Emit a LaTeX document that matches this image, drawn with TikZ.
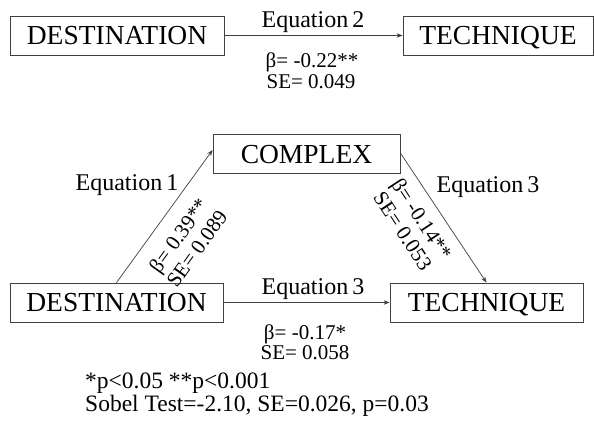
\documentclass[tikz,border=0pt]{standalone}
\usepackage{fontspec}
\setmainfont{Liberation Serif}
\usetikzlibrary{arrows.meta}

\tikzstyle{construct} = [draw=black!75, line width=0.8pt, rectangle,
  inner sep=0pt, minimum height=39pt, text height=18.2pt, text depth=0pt,
  font=\fontsize{27.5}{30}\selectfont]
\tikzstyle{effect} = [draw=black!75, line width=0.7pt,
  -{Stealth[length=6pt,width=4.5pt]}]
\tikzstyle{eqlabel} = [inner sep=0pt, anchor=base,
  font=\fontsize{24}{26}\selectfont]
\tikzstyle{coef} = [inner sep=0pt, align=center,
  font=\fontsize{21}{22.5}\selectfont]
\tikzstyle{note} = [inner sep=0pt, anchor=base west,
  font=\fontsize{23.5}{26}\selectfont]

\begin{document}
\begin{tikzpicture}[x=1pt, y=-1pt]
        \useasboundingbox (0,0) rectangle (594,425);

        \node [construct, minimum width=214pt] (dest1)   at (117,35.5)   {DESTINATION};
        \node [construct, minimum width=190pt] (tech1)   at (498,35.5)   {TECHNIQUE};
        \node [construct, minimum width=187pt] (complex) at (306.5,154)  {COMPLEX};
        \node [construct, minimum width=213pt] (dest2)   at (116.5,302.5) {DESTINATION};
        \node [construct, minimum width=193pt] (tech2)   at (486.5,302.5) {TECHNIQUE};

        \draw[effect] (dest1.east) -- (tech1.west);
        \draw[effect] (dest2.north) -- ([yshift=4pt]complex.west);
        \draw[effect] ([yshift=1pt]complex.east) -- (tech2.north);
        \draw[effect] (dest2.east) -- (tech2.west);

        \node [eqlabel] (eq2)  at (313,28)  {Equation\,2};
        \node [eqlabel] (eq1)  at (127,190) {Equation\,1};
        \node [eqlabel] (eq3a) at (488,192) {Equation\,3};
        \node [eqlabel] (eq3b) at (313,294) {Equation\,3};

        \node [coef, anchor=base] (beta2)  at (312,68)  {β= -0.22**};
        \node [coef, anchor=base] (se2)    at (311,89)  {SE= 0.049};
        \node [coef, rotate=54.5]  (coef1)  at (187.5,242) {β= 0.39**\\SE= 0.089};
        \node [coef, rotate=-56.8] (coef3a) at (412.5,225) {β= -0.14**\\SE= 0.053};
        \node [coef, anchor=base] (beta3b) at (305,339) {β= -0.17*};
        \node [coef, anchor=base] (se3b)   at (305,359) {SE= 0.058};

        \node [note] (sig)   at (85,388) {*p<0.05 **p<0.001};
        \node [note] (sobel) at (85,411) {Sobel Test=-2.10, SE=0.026, p=0.03};
      \end{tikzpicture}
\end{document}
